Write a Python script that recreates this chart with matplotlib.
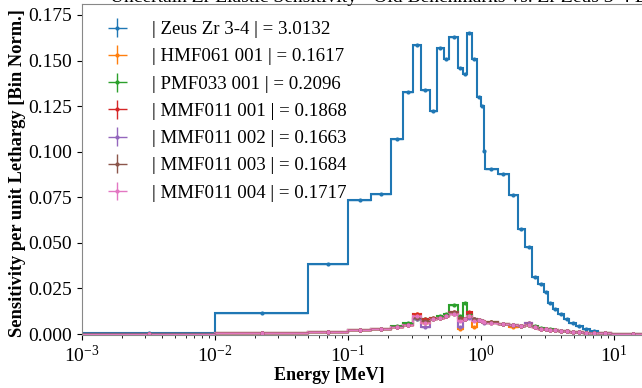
import numpy as np
import matplotlib
matplotlib.use('Agg')
from matplotlib import pyplot as plt

plt.rcParams['font.family'] = ['Liberation Serif', 'DejaVu Serif']
plt.rcParams['mathtext.fontset'] = 'stix'

# energy group edges [MeV]
edges = [1e-3, 1e-2, 0.05, 0.1, 0.15, 0.21, 0.257, 0.31, 0.355, 0.41, 0.465,
         0.525, 0.575, 0.67, 0.73, 0.785, 0.85, 0.93, 1.0, 1.05, 1.07, 1.34,
         1.61, 1.89, 2.14, 2.42, 2.67, 2.96, 3.17, 3.46, 3.8, 4.2, 4.6, 5.2,
         5.8, 6.6, 7.6, 9.5, 20.0]

zeus = [0.0008, 0.0115, 0.0385, 0.0734, 0.0767, 0.107, 0.1325, 0.1585, 0.134,
        0.1226, 0.157, 0.151, 0.163, 0.146, 0.1425, 0.165, 0.151, 0.13, 0.125,
        0.1005, 0.0906, 0.088, 0.076, 0.0574, 0.048, 0.0315, 0.0276, 0.023,
        0.017, 0.0138, 0.011, 0.0085, 0.0062, 0.0042, 0.0027, 0.0015, 0.0008,
        0.0003]
hmf061_001 = [0.0003, 0.0005, 0.0012, 0.002, 0.003, 0.004, 0.005, 0.011, 0.006,
              0.008, 0.009, 0.010, 0.011, 0.003, 0.008, 0.010, 0.004, 0.0075,
              0.007, 0.0065, 0.006, 0.0055, 0.004, 0.0045, 0.005, 0.004, 0.003,
              0.0028, 0.0025, 0.002, 0.0018, 0.0015, 0.0012, 0.001, 0.0008,
              0.0006, 0.0004, 0.0002]
pmf033_001 = [0.0003, 0.0005, 0.0012, 0.002, 0.003, 0.0045, 0.006, 0.008, 0.008,
              0.009, 0.010, 0.011, 0.016, 0.010, 0.017, 0.011, 0.008, 0.0075,
              0.007, 0.0065, 0.0065, 0.0055, 0.005, 0.0045, 0.005, 0.0045,
              0.0032, 0.003, 0.0026, 0.0021, 0.0018, 0.0015, 0.0012, 0.001,
              0.0008, 0.0006, 0.0004, 0.0002]
mmf011_001 = [0.0003, 0.0005, 0.0012, 0.002, 0.003, 0.004, 0.005, 0.011, 0.008,
              0.009, 0.009, 0.010, 0.012, 0.009, 0.008, 0.012, 0.008, 0.0075,
              0.007, 0.0065, 0.0065, 0.0055, 0.005, 0.0045, 0.006, 0.004, 0.003,
              0.0028, 0.0025, 0.002, 0.0018, 0.0015, 0.0012, 0.001, 0.0008,
              0.0006, 0.0004, 0.0002]
mmf011_002 = [0.0003, 0.0005, 0.0012, 0.002, 0.003, 0.004, 0.005, 0.008, 0.004,
              0.008, 0.009, 0.010, 0.011, 0.004, 0.008, 0.009, 0.008, 0.0075,
              0.007, 0.006, 0.006, 0.0055, 0.005, 0.0045, 0.006, 0.004, 0.0028,
              0.0026, 0.0024, 0.002, 0.0018, 0.0015, 0.0012, 0.001, 0.0008,
              0.0006, 0.0004, 0.0002]
mmf011_003 = [0.0003, 0.0005, 0.0012, 0.002, 0.003, 0.004, 0.005, 0.009, 0.007,
              0.008, 0.009, 0.010, 0.012, 0.009, 0.008, 0.010, 0.008, 0.0075,
              0.007, 0.0065, 0.0065, 0.0055, 0.005, 0.0045, 0.005, 0.004, 0.003,
              0.0028, 0.0025, 0.002, 0.0018, 0.0015, 0.0012, 0.001, 0.0008,
              0.0006, 0.0004, 0.0002]
mmf011_004 = [0.0003, 0.0005, 0.0012, 0.002, 0.003, 0.004, 0.005, 0.010, 0.006,
              0.008, 0.009, 0.010, 0.011, 0.007, 0.008, 0.010, 0.007, 0.0075,
              0.007, 0.0065, 0.006, 0.0055, 0.005, 0.0045, 0.005, 0.004, 0.003,
              0.0028, 0.0025, 0.002, 0.0018, 0.0015, 0.0012, 0.001, 0.0008,
              0.0006, 0.0004, 0.0002]

labels = ['| Zeus Zr 3-4 | = 3.0132', '| HMF061 001 | = 0.1617',
          '| PMF033 001 | = 0.2096', '| MMF011 001 | = 0.1868',
          '| MMF011 002 | = 0.1663', '| MMF011 003 | = 0.1684',
          '| MMF011 004 | = 0.1717']
series = [zeus, hmf061_001, pmf033_001, mmf011_001, mmf011_002, mmf011_003,
          mmf011_004]
colors = ['tab:blue', 'tab:orange', 'tab:green', 'tab:red', 'tab:purple',
          'tab:brown', 'tab:pink']

e = np.array(edges)
mid = np.sqrt(e[:-1] * e[1:])
xerr = [mid - e[:-1], e[1:] - mid]

W, H = 642, 388
ax_l, ax_r, ax_t, ax_b = 82, 655, 4, 335
fig = plt.figure(figsize=(W/100, H/100), dpi=100)
ax = fig.add_axes([ax_l/W, 1 - ax_b/H, (ax_r - ax_l)/W, (ax_b - ax_t)/H])

for vals, lab, c in zip(series, labels, colors):
    ax.stairs(vals, e, color=c, lw=1.5)
    ax.errorbar(mid, vals, xerr=xerr, yerr=np.full(len(vals), 0.0004),
                fmt='.', ms=4, elinewidth=1.0, color=c, label=lab)

ax.set_xscale('log')
ax.set_xlim(1e-3, 20.3)
ax.set_ylim(-0.0005, 0.181)
ax.set_yticks([0, 0.025, 0.05, 0.075, 0.1, 0.125, 0.15, 0.175])
ax.set_yticklabels(['0.000', '0.025', '0.050', '0.075', '0.100', '0.125',
                    '0.150', '0.175'])
ax.tick_params(labelsize=14)
for s in ax.spines.values():
    s.set_color('#888888')

ax.set_xlabel('Energy [MeV]', fontsize=13, fontweight='bold')
ax.xaxis.set_label_coords((329 - ax_l)/(ax_r - ax_l), -0.098)
ax.set_ylabel('Sensitivity per unit Lethargy [Bin Norm.]', fontsize=13.3,
              fontweight='bold')
ax.yaxis.set_label_coords(-(ax_l - 26)/(ax_r - ax_l), 0.49)

fig.text(110/W, 1 - 2/H,
         'Uncertain Zr Elastic Sensitivity - Old Benchmarks vs. Zr Zeus 3-4 Experiment',
         ha='left', va='baseline', fontsize=14)

leg = ax.legend(loc='upper left', fontsize=13.6, frameon=False,
                labelspacing=0.53, handlelength=2.05, handletextpad=0.8,
                borderpad=0, borderaxespad=0,
                bbox_to_anchor=((98 - ax_l)/(ax_r - ax_l), 1 - (21 - ax_t)/(ax_b - ax_t)))

fig.savefig('out.png', dpi=100)
